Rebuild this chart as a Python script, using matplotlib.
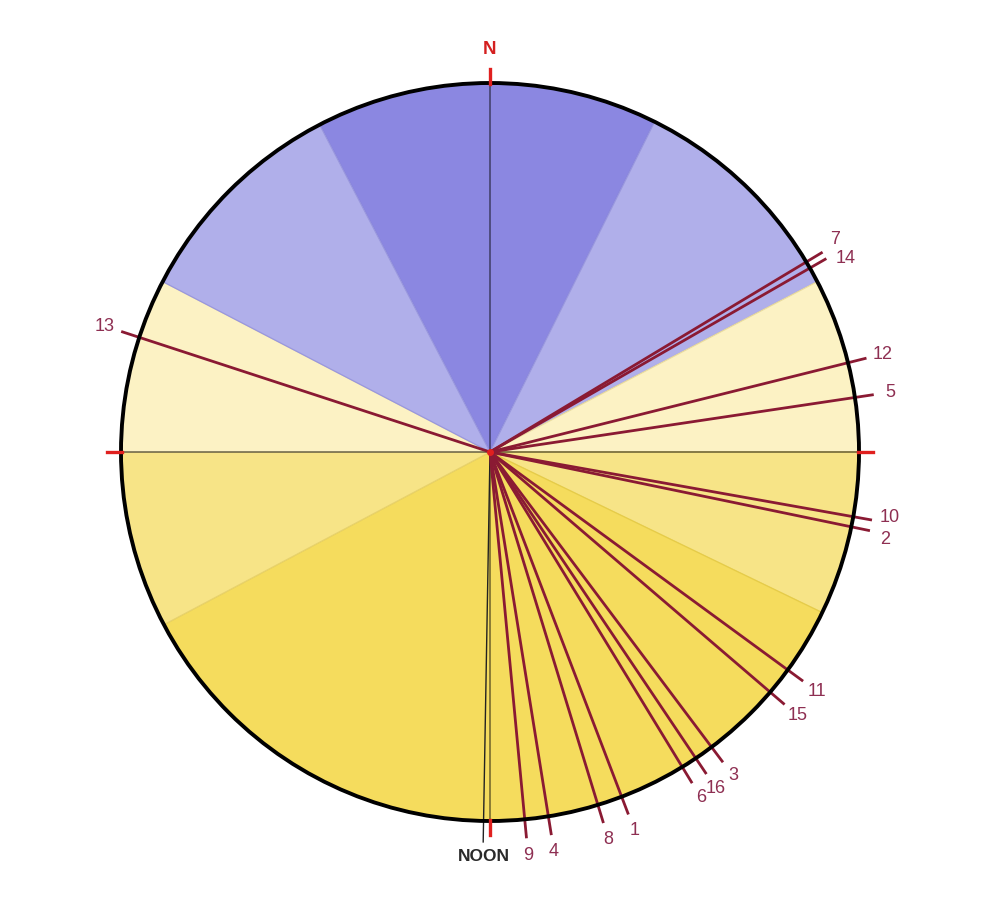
import numpy as np
import matplotlib
matplotlib.use("Agg")
import matplotlib.pyplot as plt
from matplotlib.patches import Wedge, Circle

plt.rcParams['font.family'] = ['Liberation Sans', 'DejaVu Sans']

# sector boundaries as compass bearings (deg, clockwise from N)
sector_start = [-27.5, 26.5, 62.5, 90.0, 115.8, 242.1, 270.0, 297.5]
sector_end = [26.5, 62.5, 90.0, 115.8, 242.1, 270.0, 297.5, 332.5]
sector_color = ['#8b87e1', '#b0afea', '#fcf2c4', '#f7e487', '#f5dc5d',
                '#f7e487', '#fcf2c4', '#b0afea']
sector_edge = ['#7773d4', '#9997de', '#eadc9e', '#e8d26c', '#e6cc48',
               '#e8d26c', '#eadc9e', '#9997de']

# numbered rays
ray_id = [1, 2, 3, 4, 5, 6, 7, 8, 9, 10, 11, 12, 13, 14, 15, 16]
ray_bearing = [159.1, 101.7, 143.1, 170.9, 81.5, 148.6, 59.0, 163.0,
               174.6, 100.1, 126.2, 76.0, 288.1, 60.1, 130.6, 146.1]
# little nudges so labels of close rays dont sit on top of each other
label_nudge = {7: -0.6, 14: 1.4, 10: -0.8, 2: 0.8}

noon_bearing = 181.0

W, H = 981, 914
cx, cy = 490, H - 452
R = 369
ray_len = 388
lab_r = 405

def pt(b, r):
    b = np.radians(b)
    return cx + r * np.sin(b), cy + r * np.cos(b)

fig = plt.figure(figsize=(W / 100, H / 100), dpi=100)
ax = fig.add_axes([0, 0, 1, 1])
ax.set_xlim(0, W)
ax.set_ylim(0, H)
ax.set_aspect('equal')
ax.axis('off')

for b1, b2, c, ec in zip(sector_start, sector_end, sector_color, sector_edge):
    ax.add_patch(Wedge((cx, cy), R, 90 - b2, 90 - b1, facecolor=c,
                       edgecolor=ec, linewidth=0.9, zorder=1))

# axis cross
ax.plot([cx, cx], [cy - R, cy + R], color='black', alpha=0.55, lw=1.1, zorder=2)
ax.plot([cx - R, cx + R], [cy, cy], color='black', alpha=0.55, lw=1.1, zorder=2)

# noon line
x2, y2 = pt(noon_bearing, 390)
ax.plot([cx, x2], [cy, y2], color='#222222', lw=1.0, zorder=3)
ax.text(x2 + 1, y2 - 15, 'NOON', ha='center', va='center', fontsize=12.5,
        fontweight='bold', color='#2a2a2a')

for i, b in zip(ray_id, ray_bearing):
    x2, y2 = pt(b, ray_len)
    ax.plot([cx, x2], [cy, y2], color='#8a1a33', lw=2.0, zorder=4,
            solid_capstyle='butt')
    lx, ly = pt(b + label_nudge.get(i, 0), lab_r)
    ax.text(lx, ly, str(i), ha='center', va='center', fontsize=13,
            color='#8e2f52', zorder=5)

ax.add_patch(Circle((cx, cy), R, facecolor='none', edgecolor='black',
                    linewidth=2.8, zorder=6))
ax.plot(cx, cy, 'o', color='#e0201f', ms=4, zorder=7)

# red compass ticks
for b in [0, 90, 180, 270]:
    xa, ya = pt(b, R - 1)
    xb, yb = pt(b, R + 14)
    ax.plot([xa, xb], [ya, yb], color='#e0201f', lw=2.4, zorder=7)

xn, yn = pt(0, R + 33)
ax.text(xn, yn, 'N', ha='center', va='center', fontsize=13.5, fontweight='bold',
        color='#d42020')

fig.savefig('out.png', dpi=100)
